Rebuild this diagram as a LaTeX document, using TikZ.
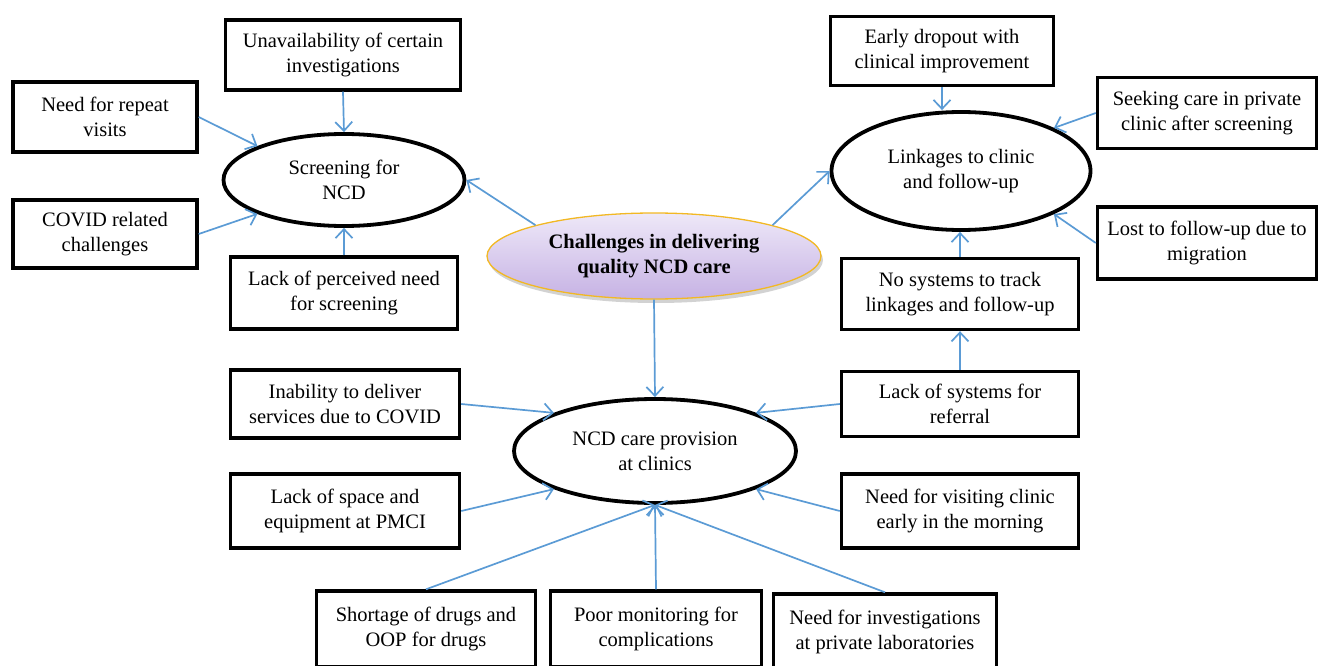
\documentclass[tikz,border=0pt]{standalone}
\usepackage{fontspec}
\setmainfont{Liberation Serif}
\usetikzlibrary{shapes.geometric,arrows.meta,shadows}
\definecolor{arrowblue}{HTML}{5B9BD5}
\definecolor{lilactop}{HTML}{EEE8F8}
\definecolor{lilacbot}{HTML}{C6B2E4}
\definecolor{goldline}{HTML}{F2B824}

\begin{document}
\begin{tikzpicture}[x=1pt,y=-1pt,font=\fontsize{20.5}{25}\selectfont,
  issue/.style={draw,line width=3.4pt,align=center,fill=white,inner sep=2pt,
    drop shadow={shadow xshift=1.5pt,shadow yshift=-1.5pt,fill=black!25}},
  theme/.style={ellipse,draw,line width=3.8pt,align=center,fill=white,inner sep=0pt},
  link/.style={arrowblue,line width=1.7pt,-{Straight Barb[length=9pt,width=17pt]}}]
  \clip (0,0) rectangle (1320,666);
  % central theme
  \node[ellipse,draw=goldline,line width=1.3pt,top color=lilactop,bottom color=lilacbot,
    minimum width=334pt,minimum height=86pt,align=center,font=\fontsize{20.5}{25}\selectfont\bfseries,
    drop shadow={shadow xshift=2pt,shadow yshift=-4pt,fill=black!35}]
    (central) at (654,256) {Challenges in delivering\\quality NCD care};
  % sub themes
  \node[theme,minimum width=241pt,minimum height=92pt] (screen) at (344,180) {Screening for\\NCD};
  \node[theme,minimum width=259pt,minimum height=118pt] (linkages) at (961,171) {Linkages to clinic\\and follow-up};
  \node[theme,minimum width=282pt,minimum height=104pt] (ncd) at (655,451) {NCD care provision\\at clinics};
  % screening
  \node[issue,minimum width=235pt,minimum height=70pt] (unavail) at (343,55) {Unavailability of certain\\investigations};
  \node[issue,minimum width=184pt,minimum height=70pt] (repeat) at (105,117) {Need for repeat\\visits};
  \node[issue,minimum width=184pt,minimum height=68pt] (covid) at (105,234) {COVID related\\challenges};
  \node[issue,minimum width=227pt,minimum height=72pt] (perceived) at (344,293) {Lack of perceived need\\for screening};
  % linkages
  \node[issue,minimum width=223pt,minimum height=69pt] (early) at (942,51) {Early dropout with\\clinical improvement};
  \node[issue,minimum width=219pt,minimum height=71pt] (seeking) at (1207,113) {Seeking care in private\\clinic after screening};
  \node[issue,minimum width=219pt,minimum height=72pt] (lost) at (1207,243) {Lost to follow-up due to\\migration};
  \node[issue,minimum width=237pt,minimum height=71pt] (notrack) at (960,294) {No systems to track\\linkages and follow-up};
  \node[issue,minimum width=237pt,minimum height=65pt] (referral) at (960,404) {Lack of systems for\\referral};
  % care provision
  \node[issue,minimum width=229pt,minimum height=68pt] (inab) at (345,404) {Inability to deliver\\services due to COVID};
  \node[issue,minimum width=229pt,minimum height=74pt] (space) at (345,511) {Lack of space and\\equipment at PMCI};
  \node[issue,minimum width=237pt,minimum height=74pt] (visiting) at (960,511) {Need for visiting clinic\\early in the morning};
  \node[issue,minimum width=219pt,minimum height=76pt] (shortage) at (426,629) {Shortage of drugs and\\OOP for drugs};
  \node[issue,minimum width=211pt,minimum height=76pt] (poor) at (656,629) {Poor monitoring for\\complications};
  \node[issue,minimum width=223pt,minimum height=76pt] (invest) at (885,632) {Need for investigations\\at private laboratories};
  % connectors
  \draw[link] (central.north west) -- (screen.east);
  \draw[link] (central.north east) -- (linkages.west);
  \draw[link] (central.south) -- (ncd.north);
  \draw[link] (unavail.south) -- (screen.north);
  \draw[link] (repeat.east) -- (screen.north west);
  \draw[link] (covid.east) -- (screen.south west);
  \draw[link] (perceived.north) -- (screen.south);
  \draw[link] (early.south) -- (early.south |- linkages.north);
  \draw[link] (seeking.west) -- (linkages.north east);
  \draw[link] (lost.west) -- (linkages.south east);
  \draw[link] (notrack.north) -- (notrack.north |- linkages.south);
  \draw[link] (referral.north) -- (notrack.south);
  \draw[link] (inab.east) -- (ncd.north west);
  \draw[link] (space.east) -- (ncd.south west);
  \draw[link] (referral.west) -- (ncd.north east);
  \draw[link] (visiting.west) -- (ncd.south east);
  \draw[link] (shortage.north) -- (ncd.south);
  \draw[link] (poor.north) -- (ncd.south);
  \draw[link] (invest.north) -- (ncd.south);
\end{tikzpicture}
\end{document}
